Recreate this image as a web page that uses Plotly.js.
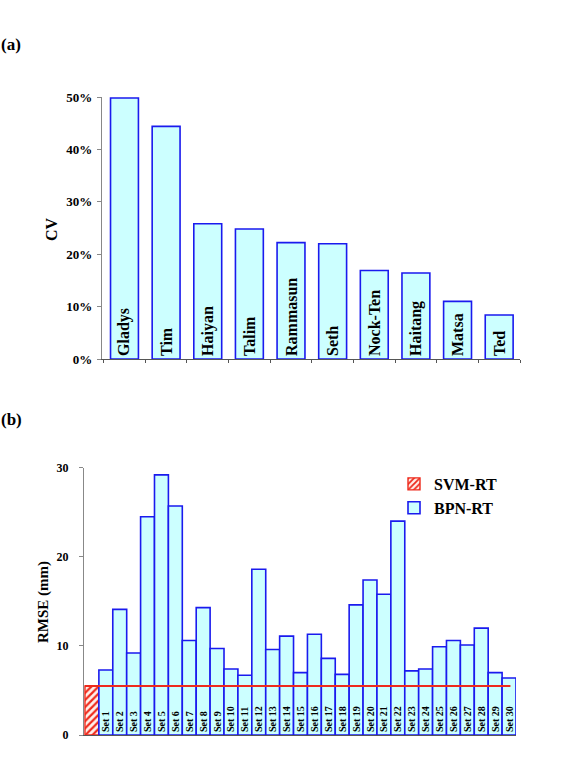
<!DOCTYPE html>
<html>
<head>
<meta charset="utf-8">
<script src="https://cdn.plot.ly/plotly-3.0.1.min.js"></script>
<style>
  html, body { margin: 0; padding: 0; background: #fff; }
  #chart { width: 563px; height: 770px; }
</style>
</head>
<body>
<div id="chart"></div>
<script>
// (a) coefficient of variation of rainfall per typhoon
const storms = ['Gladys', 'Tim', 'Haiyan', 'Talim', 'Rammasun', 'Seth', 'Nock-Ten', 'Haitang', 'Matsa', 'Ted'];
const cvPercent = [49.8, 44.4, 25.8, 24.8, 22.2, 22.0, 16.9, 16.4, 11.0, 8.4];

// (b) RMSE of the two rainfall models
const svmLabel = 'SVM-RT';
const svmRmse = 5.5;
const setLabels = ['Set 1', 'Set 2', 'Set 3', 'Set 4', 'Set 5', 'Set 6', 'Set 7', 'Set 8', 'Set 9', 'Set 10',
                   'Set 11', 'Set 12', 'Set 13', 'Set 14', 'Set 15', 'Set 16', 'Set 17', 'Set 18', 'Set 19', 'Set 20',
                   'Set 21', 'Set 22', 'Set 23', 'Set 24', 'Set 25', 'Set 26', 'Set 27', 'Set 28', 'Set 29', 'Set 30'];
const bpnRmse = [7.3, 14.1, 9.2, 24.5, 29.2, 25.7, 10.6, 14.3, 9.7, 7.4,
                 6.7, 18.6, 9.6, 11.1, 7.0, 11.3, 8.6, 6.8, 14.6, 17.4,
                 15.8, 24.0, 7.2, 7.4, 9.9, 10.6, 10.1, 12.0, 7.0, 6.4];
const cvTicks = [0, 10, 20, 30, 40, 50];
const cvTickText = ['0%', '10%', '20%', '30%', '40%', '50%'];
const rmseTicks = [0, 10, 20, 30];

const W = 563, H = 770;
const px = x => x / W;
const py = y => 1 - y / H;

const SERIF = 'Liberation Serif, Times New Roman, serif';
const CYAN = '#ccffff';
const BLUE = '#1a1aee';
const RED = '#ee2a1c';

const traces = [
  {
    type: 'bar', x: storms, y: cvPercent, xaxis: 'x', yaxis: 'y',
    text: storms, textposition: 'inside', insidetextanchor: 'start', textangle: -90,
    constraintext: 'none',
    textfont: { family: SERIF, size: 16, weight: 'bold', color: '#000' },
    marker: { color: CYAN, line: { color: BLUE, width: 1.6 } },
    width: 0.67, showlegend: false, hoverinfo: 'x+y'
  },
  {
    type: 'bar', name: svmLabel, x: [svmLabel], y: [svmRmse], xaxis: 'x2', yaxis: 'y2',
    marker: {
      color: '#fff',
      line: { color: RED, width: 1.4 },
      pattern: { shape: '/', fgcolor: RED, bgcolor: '#fff0ea', size: 5, solidity: 0.45 }
    },
    width: 1
  },
  {
    type: 'bar', name: 'BPN-RT', x: setLabels, y: bpnRmse, xaxis: 'x2', yaxis: 'y2',
    text: setLabels, textposition: 'inside', insidetextanchor: 'start', textangle: -90,
    constraintext: 'none',
    textfont: { family: SERIF, size: 10, weight: 'bold', color: '#000' },
    marker: { color: CYAN, line: { color: BLUE, width: 1.6 } },
    width: 1
  }
];

const tickFont = (s) => ({ family: SERIF, size: s, weight: 'bold', color: '#000' });

const layout = {
  width: W, height: H,
  margin: { l: 0, r: 0, t: 0, b: 0 },
  paper_bgcolor: '#fff', plot_bgcolor: '#fff',
  barmode: 'overlay',
  font: { family: SERIF, color: '#000' },
  xaxis: {
    domain: [px(102), px(520)], anchor: 'y',
    type: 'category', range: [-0.54, 9.5],
    showticklabels: false, showgrid: false, zeroline: false,
    showline: true, linecolor: '#555', linewidth: 1.2,
    ticks: 'outside', tickson: 'boundaries', ticklen: 3, tickcolor: '#555', tickwidth: 1
  },
  yaxis: {
    domain: [py(359), py(97)], anchor: 'x',
    range: [0, 50], tickmode: 'array', tickvals: cvTicks, ticktext: cvTickText,
    tickfont: tickFont(13), showgrid: false, zeroline: false,
    showline: true, linecolor: '#888', linewidth: 1.2,
    ticks: 'outside', ticklen: 4, tickcolor: '#888', ticklabelstandoff: 2
  },
  xaxis2: {
    domain: [px(84), px(516)], anchor: 'y2',
    type: 'category', range: [-0.57, 30.5],
    showticklabels: false, showgrid: false, zeroline: false,
    showline: true, linecolor: '#555', linewidth: 1.2, ticks: ''
  },
  yaxis2: {
    domain: [py(735), py(467.7)], anchor: 'x2',
    range: [0, 30], tickvals: rmseTicks,
    tickfont: tickFont(12), showgrid: false, zeroline: false,
    showline: true, linecolor: '#888', linewidth: 1.2,
    ticks: 'outside', ticklen: 4, tickcolor: '#888', ticklabelstandoff: 8
  },
  shapes: [
    // SVM-RT reference level carried across the BPN-RT sets
    { type: 'line', xref: 'x2', yref: 'y2', x0: -0.5, x1: 30.1, y0: svmRmse, y1: svmRmse,
      line: { color: RED, width: 2 } }
  ],
  legend: {
    x: px(394), y: py(467), xanchor: 'left', yanchor: 'top',
    bgcolor: 'rgba(0,0,0,0)', borderwidth: 0,
    font: { family: SERIF, size: 16, weight: 'bold', color: '#000' },
    itemwidth: 30, traceorder: 'normal'
  },
  annotations: [
    { text: '(a)', xref: 'paper', yref: 'paper', x: px(-1), y: py(45), xanchor: 'left', yanchor: 'middle',
      showarrow: false, font: { family: SERIF, size: 17, weight: 'bold' } },
    { text: '(b)', xref: 'paper', yref: 'paper', x: px(-1), y: py(419), xanchor: 'left', yanchor: 'middle',
      showarrow: false, font: { family: SERIF, size: 17, weight: 'bold' } },
    { text: 'CV', xref: 'paper', yref: 'paper', x: px(52), y: py(229), xanchor: 'center', yanchor: 'middle',
      textangle: -90, showarrow: false, font: { family: SERIF, size: 16, weight: 'bold' } },
    { text: 'RMSE (mm)', xref: 'paper', yref: 'paper', x: px(43), y: py(602), xanchor: 'center', yanchor: 'middle',
      textangle: -90, showarrow: false, font: { family: SERIF, size: 15, weight: 'bold' } }
  ]
};

Plotly.newPlot('chart', traces, layout, { displayModeBar: false, staticPlot: true });
</script>
</body>
</html>
